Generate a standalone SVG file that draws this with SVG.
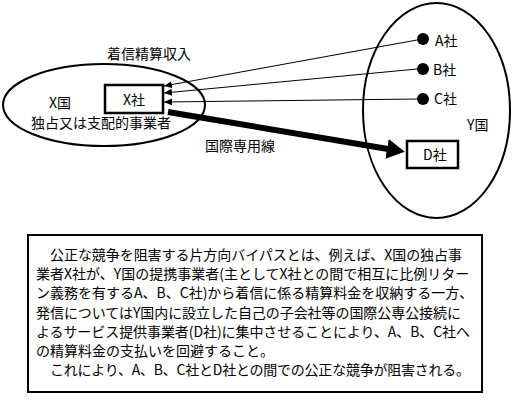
<svg xmlns="http://www.w3.org/2000/svg" width="517" height="400" viewBox="0 0 517 400">
<style>
text{font-family:"Noto Sans CJK JP","Noto Sans CJK SC",sans-serif;font-size:14px;fill:#000}
.ell{fill:none;stroke:#000;stroke-width:2}
.box{fill:#fff;stroke:#000;stroke-width:2.5}
.thin{fill:none;stroke:#000;stroke-width:1}
.thick{fill:none;stroke:#000;stroke-width:6}
</style>
<defs>
<marker id="ah" markerUnits="userSpaceOnUse" markerWidth="9" markerHeight="8" refX="8" refY="3.5" orient="auto"><path d="M0,0 L8,3.5 L0,7 z" fill="#000"/></marker>
<marker id="bigah" markerUnits="userSpaceOnUse" markerWidth="20" markerHeight="22" refX="1" refY="10" orient="auto"><path d="M0,0 L18,10 L0,20 z" fill="#000"/></marker>
</defs>
<rect width="517" height="400" fill="#fff"/>
<g id="countryX">
<ellipse class="ell" cx="104" cy="105" rx="101" ry="41"/>
<text x="49" y="108">X国</text>
<text x="31" y="128">独占又は支配的事業者</text>
</g>
<g id="countryY">
<ellipse class="ell" cx="436.5" cy="110.5" rx="73.5" ry="107.5"/>
<text x="467" y="130">Y国</text>
</g>
<g id="companyX">
<rect class="box" x="105" y="85" width="58" height="28"/>
<text x="123" y="105">X社</text>
</g>
<g id="companyA">
<circle cx="423" cy="39" r="6" fill="#000"/>
<text x="435" y="46">A社</text>
</g>
<g id="companyB">
<circle cx="423" cy="69" r="6" fill="#000"/>
<text x="433" y="75">B社</text>
</g>
<g id="companyC">
<circle cx="423" cy="99" r="6" fill="#000"/>
<text x="434" y="104">C社</text>
</g>
<g id="companyD">
<rect class="box" x="407" y="141" width="51" height="27"/>
<text x="423" y="160">D社</text>
</g>
<g id="connectors">
<path class="thin" d="M417,40 L164,86" marker-end="url(#ah)"/>
<path class="thin" d="M417,69 L164,93" marker-end="url(#ah)"/>
<path class="thin" d="M417,99 L164,102" marker-end="url(#ah)"/>
<path class="thick" d="M168,112 L388,149" marker-end="url(#bigah)"/>
<text x="107" y="59">着信精算収入</text>
<text x="205" y="151">国際専用線</text>
</g>
<g id="description">
<rect x="28" y="235" width="454" height="157" fill="#fff" stroke="#000" stroke-width="2"/>
<text x="50" y="260" textLength="412" lengthAdjust="spacing">公正な競争を阻害する片方向バイパスとは、例えば、X国の独占事</text>
<text x="36" y="279">業者X社が、Y国の提携事業者(主としてX社との間で相互に比例リター</text>
<text x="36" y="298">ン義務を有するA、B、C社)から着信に係る精算料金を収納する一方、</text>
<text x="36" y="318" textLength="425" lengthAdjust="spacing">発信についてはY国内に設立した自己の子会社等の国際公専公接続に</text>
<text x="36" y="337" textLength="434" lengthAdjust="spacing">よるサービス提供事業者(D社)に集中させることにより、A、B、C社へ</text>
<text x="36" y="356">の精算料金の支払いを回避すること。</text>
<text x="50" y="375" textLength="420" lengthAdjust="spacing">これにより、A、B、C社とD社との間での公正な競争が阻害される。</text>
</g>
</svg>
